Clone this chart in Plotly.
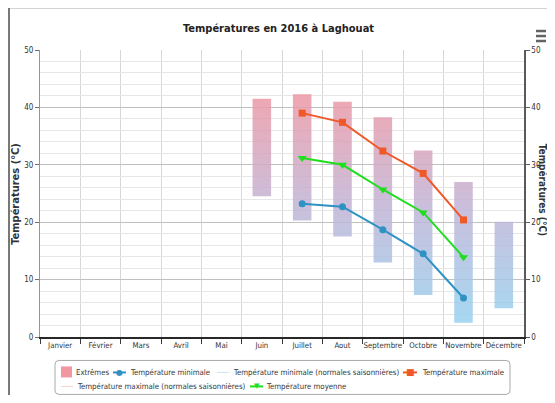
import plotly.graph_objects as go

months = ["Janvier", "Février", "Mars", "Avril", "Mai", "Juin", "Juillet",
          "Aout", "Septembre", "Octobre", "Novembre", "Décembre"]
ext_low = [None, None, None, None, None, 24.5, 20.3, 17.5, 13.0, 7.3, 2.5, 5.0]
ext_high = [None, None, None, None, None, 41.5, 42.3, 41.0, 38.3, 32.5, 27.0, 20.1]
t_max = [None, None, None, None, None, None, 39.0, 37.4, 32.4, 28.5, 20.4, None]
t_moy = [None, None, None, None, None, None, 31.2, 30.0, 25.7, 21.7, 13.9, None]
t_min = [None, None, None, None, None, None, 23.2, 22.7, 18.7, 14.5, 6.8, None]
series_names = ["Extrêmes", "Température minimale",
                "Température minimale (normales saisonnières)", "Température maximale",
                "Température maximale (normales saisonnières)", "Température moyenne"]

FONT = "DejaVu Sans Condensed, Liberation Sans Narrow, DejaVu Sans, sans-serif"
C_MIN = "rgb(47,146,196)"
C_MAX = "rgb(240,88,40)"
C_MOY = "rgb(30,222,30)"
C_MIN_N = "rgb(205,228,242)"
C_MAX_N = "rgb(248,212,200)"
C_EXT = "rgb(242,150,160)"

# the page body adds an 8px margin; layout below is expressed in screen pixels
OFF = 8
W, H = 555 - 2 * OFF, 403 - 2 * OFF
L, R, T, B = 40, 524, 50, 337.5   # plot area in screen pixels


def px(x):
    return (x - L) / (R - L)


def py(y):
    return (B - y) / (B - T)


xpos = list(range(len(months)))

fig = go.Figure()

# extremes bars: gradient-filled rectangles built from the data
half = 0.23
bx, by = [], []
for i, lo, hi in zip(xpos, ext_low, ext_high):
    if lo is None:
        continue
    bx += [i - half, i + half, i + half, i - half, i - half, None]
    by += [lo, lo, hi, hi, lo, None]
fig.add_trace(go.Scatter(
    x=bx, y=by, mode="lines", fill="toself", line=dict(width=0),
    fillgradient=dict(type="vertical", start=2, stop=43,
                      colorscale=[[0, "rgba(150,210,240,0.85)"],
                                  [0.5, "rgba(192,180,214,0.85)"],
                                  [1, "rgba(238,150,162,0.85)"]]),
    name=series_names[0], showlegend=False, hoverinfo="skip",
))

fig.add_trace(go.Scatter(
    x=xpos, y=t_min, mode="lines+markers", name=series_names[1], showlegend=False,
    line=dict(color=C_MIN, width=2), marker=dict(symbol="circle", size=7, color=C_MIN)))
fig.add_trace(go.Scatter(
    x=xpos, y=t_max, mode="lines+markers", name=series_names[3], showlegend=False,
    line=dict(color=C_MAX, width=2), marker=dict(symbol="square", size=7, color=C_MAX)))
fig.add_trace(go.Scatter(
    x=xpos, y=t_moy, mode="lines+markers", name=series_names[5], showlegend=False,
    line=dict(color=C_MOY, width=2), marker=dict(symbol="triangle-down", size=8, color=C_MOY)))
fig.add_trace(go.Scatter(x=[0], y=[None], yaxis="y2", showlegend=False,
                         hoverinfo="skip", mode="markers"))

# ---- custom legend (two rows, like the original) ----
leg_font = dict(size=7.8, family=FONT, color="#333")
annotations = []
shapes = []
bx0, bx1, by0, by1, rr = 55, 510, 361, 395, 4
path = (f"M {px(bx0+rr)} {py(by0)} L {px(bx1-rr)} {py(by0)} Q {px(bx1)} {py(by0)} {px(bx1)} {py(by0+rr)} "
        f"L {px(bx1)} {py(by1-rr)} Q {px(bx1)} {py(by1)} {px(bx1-rr)} {py(by1)} "
        f"L {px(bx0+rr)} {py(by1)} Q {px(bx0)} {py(by1)} {px(bx0)} {py(by1-rr)} "
        f"L {px(bx0)} {py(by0+rr)} Q {px(bx0)} {py(by0)} {px(bx0+rr)} {py(by0)} Z")
shapes.append(dict(type="path", xref="paper", yref="paper", path=path,
                   line=dict(color="rgb(170,170,170)", width=1), fillcolor="white"))

items = [
    (0, 74, 373, "rect", C_EXT, 61, 72),
    (1, 128, 373, "line+circle", C_MIN, 113, 126),
    (2, 231, 373, "line", C_MIN_N, 217, 229),
    (3, 420, 373, "line+square", C_MAX, 403, 417),
    (4, 75, 387, "line", C_MAX_N, 61, 73),
    (5, 264, 387, "line+tri", C_MOY, 250, 263),
]
glyph = {"circle": ("●", 8), "square": ("■", 9), "tri": ("▼", 7)}
for idx, tx, ry, kind, col, sx0, sx1 in items:
    annotations.append(dict(text=series_names[idx], xref="paper", yref="paper",
                            x=px(tx), y=py(ry), xanchor="left", yanchor="middle",
                            showarrow=False, font=leg_font))
    if kind == "rect":
        shapes.append(dict(type="rect", xref="paper", yref="paper",
                           x0=px(sx0), x1=px(sx1), y0=py(ry - 6), y1=py(ry + 5),
                           fillcolor=col, line=dict(width=0)))
    else:
        shapes.append(dict(type="line", xref="paper", yref="paper",
                           x0=px(sx0), x1=px(sx1), y0=py(ry), y1=py(ry),
                           line=dict(color=col, width=2 if "+" in kind else 1)))
        if "+" in kind:
            g, s = glyph[kind.split("+")[1]]
            annotations.append(dict(text=g, xref="paper", yref="paper",
                                    x=px((sx0 + sx1) / 2), y=py(ry), xanchor="center",
                                    yanchor="middle", showarrow=False,
                                    font=dict(size=s, color=col, family="DejaVu Sans")))

annotations += [
    dict(text="<b>Températures (°C)</b>", textangle=90, xref="paper", yref="paper",
         x=px(542), y=py(190), showarrow=False, xanchor="center", yanchor="middle",
         font=dict(size=10, family=FONT, color="#333")),
    dict(text="<b>Températures (°C)</b>", textangle=-90, xref="paper", yref="paper",
         x=px(16), y=py(194), showarrow=False, xanchor="center", yanchor="middle",
         font=dict(size=11, family=FONT, color="#333")),
    dict(text="<b>Températures en 2016 à Laghouat</b>", xref="paper", yref="paper",
         x=px(278), y=py(28), showarrow=False, xanchor="center", yanchor="middle",
         font=dict(family=FONT, size=11, color="#222")),
]
# menu icon (three bars)
for yy in (31, 36, 41):
    shapes.append(dict(type="line", xref="paper", yref="paper", x0=px(536), x1=px(546),
                       y0=py(yy), y1=py(yy), line=dict(color="rgb(100,100,100)", width=2.5)))
shapes += [
    dict(type="line", xref="paper", yref="paper", x0=px(OFF), x1=px(560),
         y0=py(7.5), y1=py(7.5), line=dict(color="rgb(80,80,80)", width=1.5)),
    dict(type="line", xref="paper", yref="paper", x0=px(OFF + 1), x1=px(OFF + 1),
         y0=py(7.5), y1=py(410), line=dict(color="rgb(120,120,120)", width=2)),
]

fig.update_layout(
    width=W, height=H,
    margin=dict(l=L - OFF, r=W - (R - OFF), t=T - OFF, b=H - (B - OFF), autoexpand=False),
    paper_bgcolor="white", plot_bgcolor="white",
    font=dict(family=FONT, size=8, color="#333"),
    showlegend=False,
    xaxis=dict(range=[-0.5, 11.5], tickmode="array", tickvals=xpos, ticktext=months,
               ticks="", showgrid=False, zeroline=False, tickangle=0,
               showline=True, linecolor="rgb(40,40,40)", linewidth=1.5,
               minor=dict(tickmode="array", tickvals=[i - 0.5 for i in range(len(months) + 1)],
                          ticks="outside", ticklen=5, tickcolor="rgb(60,60,60)",
                          showgrid=True, gridcolor="rgb(215,215,215)"),
               tickfont=dict(size=7.8, family=FONT, color="#333")),
    yaxis=dict(range=[0, 50], dtick=10, showgrid=True, gridcolor="rgb(192,192,192)",
               showline=True, linecolor="rgb(150,150,150)", linewidth=1,
               ticks="outside", ticklen=4, tickcolor="rgb(110,110,110)",
               zeroline=False,
               minor=dict(dtick=2, showgrid=True, gridcolor="rgb(230,230,230)", ticks=""),
               tickfont=dict(size=8, family=FONT, color="#333")),
    yaxis2=dict(range=[0, 50], dtick=10, overlaying="y", side="right",
                showgrid=False, showline=True, linecolor="rgb(90,90,90)", linewidth=1.5,
                ticks="outside", ticklen=4, tickcolor="rgb(90,90,90)", zeroline=False,
                tickfont=dict(size=8, family=FONT, color="#333")),
    annotations=annotations,
    shapes=shapes,
)

fig.write_html("out.html")
